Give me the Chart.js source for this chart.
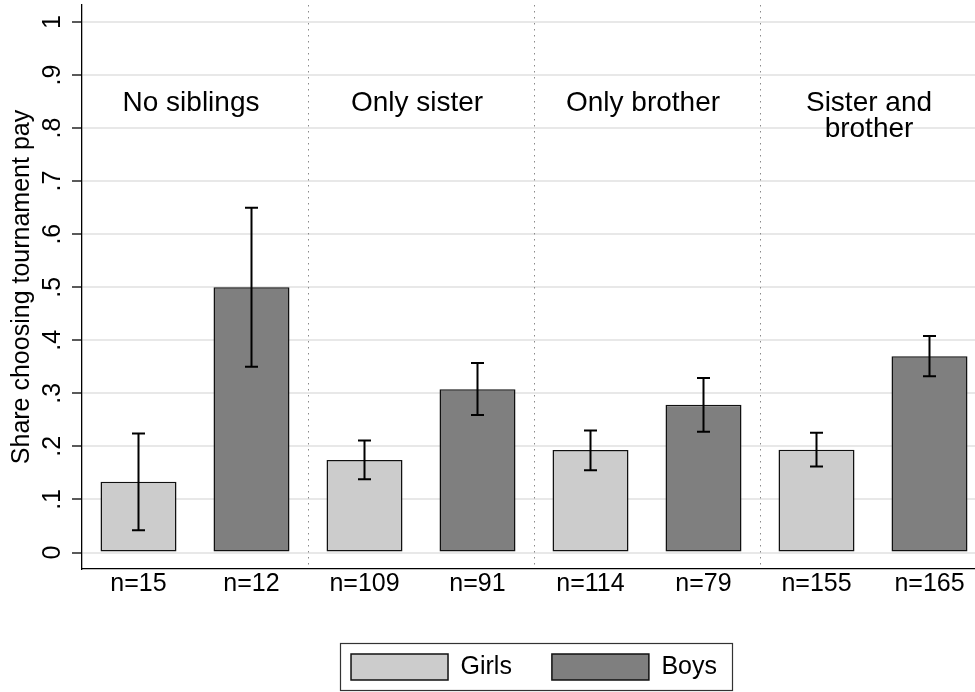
<!DOCTYPE html>
<html>
<head>
<meta charset="utf-8">
<script src="https://cdn.jsdelivr.net/npm/chart.js@4/dist/chart.umd.min.js"></script>
<style>
  html, body { margin: 0; padding: 0; background: #fff; overflow: hidden; }
  canvas { display: block; }
</style>
</head>
<body>
<canvas id="chart" width="988" height="692"></canvas>
<script>
// Sibling composition groups (panel titles, one entry per line)
const groupTitles = [['No siblings'], ['Only sister'], ['Only brother'], ['Sister and', 'brother']];

// Sample sizes per group
const nGirls = [15, 109, 114, 155];
const nBoys = [12, 91, 79, 165];

// Share choosing tournament pay
const girlsShare = [0.1333, 0.1743, 0.1930, 0.1935];
const boysShare = [0.5000, 0.3077, 0.2785, 0.3697];

// Confidence interval bounds
const girlsLo = [0.042, 0.138, 0.155, 0.162];
const girlsHi = [0.2245, 0.211, 0.230, 0.2256];
const boysLo = [0.350, 0.259, 0.2275, 0.332];
const boysHi = [0.650, 0.357, 0.329, 0.408];

// Y axis ticks
const yTickValues = [0, 0.1, 0.2, 0.3, 0.4, 0.5, 0.6, 0.7, 0.8, 0.9, 1];
const yTickLabels = ['0', '.1', '.2', '.3', '.4', '.5', '.6', '.7', '.8', '.9', '1'];

const FONT = '"Liberation Sans", Arial, Helvetica, sans-serif';

// Interleave girls/boys into one bar per category
const xLabels = [];
const girlsData = [];
const boysData = [];
const loData = [[], []];
const hiData = [[], []];
for (let i = 0; i < groupTitles.length; i++) {
  xLabels.push('n=' + nGirls[i], 'n=' + nBoys[i]);
  girlsData.push(girlsShare[i], null);
  boysData.push(null, boysShare[i]);
  loData[0].push(girlsLo[i], null);
  hiData[0].push(girlsHi[i], null);
  loData[1].push(null, boysLo[i]);
  hiData[1].push(null, boysHi[i]);
}

// Axis boxes keep no extra padding so the plot fills its area
function noPad(s) {
  s.paddingTop = 0; s.paddingBottom = 0; s.paddingLeft = 0; s.paddingRight = 0;
}

// Vertical dotted separators between sibling groups
const separators = {
  id: 'separators',
  beforeDatasetsDraw(chart) {
    const {ctx, chartArea, scales: {x}} = chart;
    ctx.save();
    ctx.strokeStyle = '#8a8a8a';
    ctx.lineWidth = 1;
    ctx.setLineDash([1.5, 4.5]);
    for (let g = 1; g < groupTitles.length; g++) {
      const px = Math.round((x.getPixelForValue(2 * g - 1) + x.getPixelForValue(2 * g)) / 2) + 0.5;
      ctx.beginPath();
      ctx.moveTo(px, chartArea.top);
      ctx.lineTo(px, chartArea.bottom);
      ctx.stroke();
    }
    ctx.restore();
  }
};

// Capped error bars on each bar
const errorBars = {
  id: 'errorBars',
  afterDatasetsDraw(chart) {
    const {ctx, scales: {y}} = chart;
    ctx.save();
    ctx.strokeStyle = '#000';
    ctx.lineWidth = 2;
    chart.data.datasets.forEach((ds, di) => {
      const meta = chart.getDatasetMeta(di);
      meta.data.forEach((bar, i) => {
        if (ds.data[i] == null) return;
        const cx = bar.x;
        const yl = y.getPixelForValue(loData[di][i]);
        const yh = y.getPixelForValue(hiData[di][i]);
        const cap = 6.5;
        ctx.beginPath();
        ctx.moveTo(cx, yl); ctx.lineTo(cx, yh);
        ctx.moveTo(cx - cap, yh); ctx.lineTo(cx + cap, yh);
        ctx.moveTo(cx - cap, yl); ctx.lineTo(cx + cap, yl);
        ctx.stroke();
      });
    });
    ctx.restore();
  }
};

// Group titles above each pair of bars
const groupLabels = {
  id: 'groupLabels',
  afterDatasetsDraw(chart) {
    const {ctx, scales: {x, y}} = chart;
    ctx.save();
    ctx.fillStyle = '#000';
    ctx.font = '28px ' + FONT;
    ctx.textAlign = 'center';
    ctx.textBaseline = 'alphabetic';
    const base = y.getPixelForValue(0.8315);
    groupTitles.forEach((lines, g) => {
      const cx = (x.getPixelForValue(2 * g) + x.getPixelForValue(2 * g + 1)) / 2 - 4;
      lines.forEach((t, k) => ctx.fillText(t, cx, base + k * 25.5));
    });
    ctx.restore();
  }
};

// Frame around the legend
const legendFrame = {
  id: 'legendFrame',
  afterDraw(chart) {
    const lg = chart.legend;
    if (!lg || !lg.legendHitBoxes || !lg.legendHitBoxes.length) return;
    const hb = lg.legendHitBoxes;
    const first = hb[0], last = hb[hb.length - 1];
    const left = Math.round(first.left - 11) + 0.5;
    const right = Math.round(last.left + last.width + 15) + 0.5;
    const top = Math.round(first.top - 11) + 0.5;
    const bottom = Math.round(first.top + first.height + 10) + 0.5;
    const {ctx} = chart;
    ctx.save();
    ctx.strokeStyle = '#333';
    ctx.lineWidth = 1.2;
    ctx.strokeRect(left, top, right - left, bottom - top);
    ctx.restore();
  }
};

new Chart(document.getElementById('chart'), {
  type: 'bar',
  data: {
    labels: xLabels,
    datasets: [
      {
        label: 'Girls',
        data: girlsData,
        backgroundColor: '#cccccc',
        borderColor: '#111111',
        borderWidth: 1.5,
        borderSkipped: false
      },
      {
        label: 'Boys',
        data: boysData,
        backgroundColor: '#7f7f7f',
        borderColor: '#111111',
        borderWidth: 1.5,
        borderSkipped: false
      }
    ]
  },
  options: {
    responsive: false,
    animation: false,
    devicePixelRatio: 1,
    grouped: false,
    barPercentage: 76 / 113,
    categoryPercentage: 1,
    layout: { padding: { top: 5, right: 2, bottom: 2, left: 0 } },
    plugins: {
      tooltip: { enabled: false },
      legend: {
        position: 'bottom',
        fullSize: false,
        labels: {
          boxWidth: 97,
          boxHeight: 26,
          padding: 40,
          color: '#000',
          font: { family: FONT, size: 25 }
        }
      }
    },
    scales: {
      x: {
        type: 'category',
        offset: true,
        grid: { display: false, drawTicks: false },
        border: { display: true, color: '#000', width: 1.3 },
        ticks: {
          color: '#000',
          font: { family: FONT, size: 25 },
          padding: 0,
          autoSkip: false,
          maxRotation: 0
        },
        afterFit(s) { s.height = 45; noPad(s); }
      },
      y: {
        min: -0.0311,
        max: 1.032,
        afterBuildTicks(s) { s.ticks = yTickValues.map(v => ({ value: v })); },
        grid: {
          color: '#e8e8e8',
          lineWidth: 2,
          tickColor: '#000',
          tickWidth: 1.3,
          tickLength: 10
        },
        border: { display: true, color: '#000', width: 1.3 },
        ticks: {
          color: '#000',
          font: { family: FONT, size: 25 },
          minRotation: 90,
          maxRotation: 90,
          crossAlign: 'center',
          padding: 8,
          callback(v) {
            const i = yTickValues.findIndex(t => Math.abs(t - v) < 1e-9);
            return i >= 0 ? yTickLabels[i] : '';
          }
        },
        title: {
          display: true,
          text: 'Share choosing tournament pay',
          color: '#000',
          font: { family: FONT, size: 25 },
          padding: { top: 7, bottom: 0 }
        },
        afterFit(s) { s.width = 82; noPad(s); }
      }
    }
  },
  plugins: [separators, errorBars, groupLabels, legendFrame]
});
</script>
</body>
</html>
